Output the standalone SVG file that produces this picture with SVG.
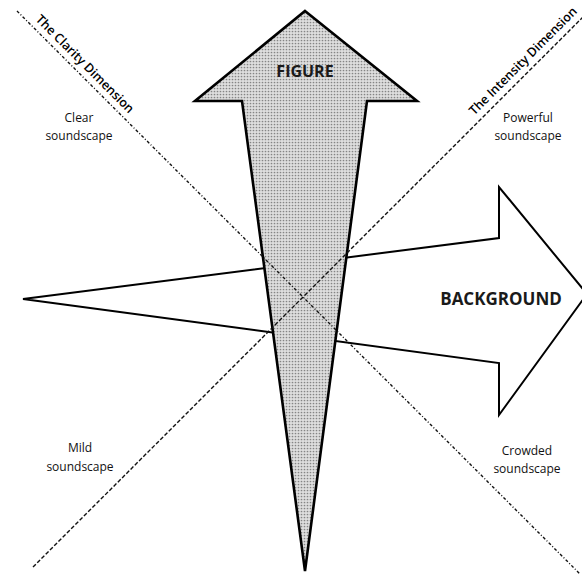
<svg xmlns="http://www.w3.org/2000/svg" width="582" height="574" viewBox="0 0 582 574">
<style>
.lbl{font-family:"Open Sans","Liberation Sans",sans-serif;font-size:12px;fill:#111;text-anchor:middle}
.dim{font-family:"Open Sans","Liberation Sans",sans-serif;font-size:12.5px;font-weight:600;fill:#000}
.big{font-family:"Open Sans","Liberation Sans",sans-serif;font-weight:bold;fill:#1a1a1a;text-anchor:middle}
.outline{stroke:#000;stroke-linejoin:miter}
</style>
<defs>
<pattern id="stip" width="3" height="3" patternUnits="userSpaceOnUse">
<rect width="3" height="3" fill="#dedede"/>
<circle cx="1.5" cy="1.5" r="0.85" fill="#858585"/>
</pattern>
</defs>
<rect width="582" height="574" fill="#fff"/>
<g id="background">
<polygon class="outline" points="23,299 499,238 499,187 587,294 499,415 499,363" fill="#fff" stroke-width="2"/>
<text class="big" x="501" y="305" font-size="17">BACKGROUND</text>
</g>
<g id="figure">
<polygon class="outline" points="305,11 417,101 367,101 305,571 242,101 195,101" fill="url(#stip)" stroke-width="2.6"/>
<text class="big" x="305" y="77" font-size="16">FIGURE</text>
</g>
<g id="connectors" fill="none" stroke="#111" stroke-width="1.4">
<line id="clarity-axis" x1="17" y1="11" x2="582" y2="576" stroke-dasharray="3 2 1 2"/>
<line id="intensity-axis" x1="33" y1="567" x2="584" y2="16" stroke-dasharray="4 2"/>
</g>
<g id="clarity-label">
<text class="dim" text-anchor="middle" transform="translate(82,67) rotate(45)">The Clarity Dimension</text>
</g>
<g id="intensity-label">
<text class="dim" text-anchor="middle" transform="translate(526,64) rotate(-45)">The Intensity Dimension</text>
</g>
<g id="clear">
<text class="lbl" x="79" y="122">Clear</text>
<text class="lbl" x="79" y="140">soundscape</text>
</g>
<g id="powerful">
<text class="lbl" x="528" y="122">Powerful</text>
<text class="lbl" x="528" y="140">soundscape</text>
</g>
<g id="mild">
<text class="lbl" x="80" y="452">Mild</text>
<text class="lbl" x="80" y="471">soundscape</text>
</g>
<g id="crowded">
<text class="lbl" x="527" y="455">Crowded</text>
<text class="lbl" x="527" y="473">soundscape</text>
</g>
</svg>
